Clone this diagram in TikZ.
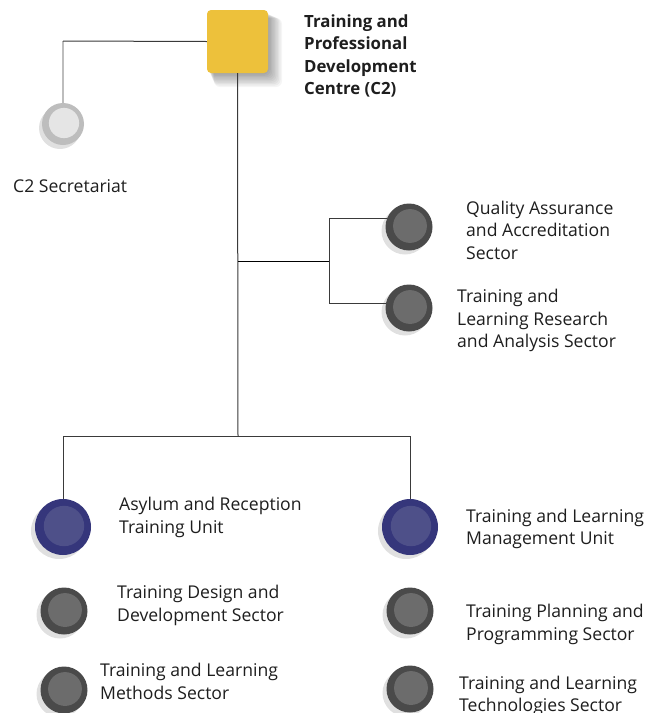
\documentclass[tikz,border=0pt]{standalone}
\usepackage{fontspec}
\setmainfont{Open Sans}
\definecolor{ybox}{HTML}{EDC13B}
\definecolor{gring}{HTML}{4A4A4A}
\definecolor{ginner}{HTML}{6C6C6C}
\definecolor{bring}{HTML}{35367B}
\definecolor{binner}{HTML}{4E5089}
\definecolor{sring}{HTML}{BDBDBD}
\definecolor{sinner}{HTML}{E5E5E5}
\definecolor{txt}{HTML}{1E1E1E}
\definecolor{lin}{HTML}{3A3A3A}
\begin{document}
\begin{tikzpicture}[x=1pt,y=-1pt,
  lbl/.style={anchor=west, align=left, inner sep=0pt, text=txt,
    font=\fontsize{17.6}{22.5}\selectfont},
  conn/.style={draw=lin, line width=1pt},
  shadowc/.style={fill=black, opacity=0.12},
  ball/.style n args={3}{circle, inner sep=0pt, minimum size=#1, fill=#2,
    path picture={\fill[#3] ([xshift=1pt,yshift=1pt]path picture bounding box.center) circle (0.36*#1);}},
]
\useasboundingbox (0,0) rectangle (646,713);
\fill[white] (0,0) rectangle (646,713);

% square shadow
\foreach \i in {1,...,10}
  \fill[black, opacity=0.04, rounded corners=6] (208+\i*0.6,12+\i*0.6) rectangle (268+\i*1.4,73+\i*1.4);

\node[fill=ybox, rounded corners=4pt, minimum width=61pt, minimum height=63pt, inner sep=0pt] (top) at (237.5,41.5) {};

% circle shadows
\foreach \p/\r in {{(60,128)}/21, {(405,231)}/23.5, {(405,312)}/23.5, {(59,531)}/28, {(406,531)}/28, {(60,615)}/23.5, {(60,694)}/23.5, {(406,615)}/23.5, {(406,693)}/23.5}
  \fill[shadowc] \p circle (\r);

\node[ball={42pt}{sring}{sinner}] (sec) at (63,124) {};
\node[ball={47pt}{gring}{ginner}] (qa) at (409,227) {};
\node[ball={47pt}{gring}{ginner}] (tlr) at (409,308) {};
\node[ball={56pt}{bring}{binner}] (asy) at (63,527) {};
\node[ball={56pt}{bring}{binner}] (tlm) at (410,527) {};
\node[ball={47pt}{gring}{ginner}] (tdd) at (64,611) {};
\node[ball={47pt}{gring}{ginner}] (tlme) at (64,690) {};
\node[ball={47pt}{gring}{ginner}] (tpp) at (410,611) {};
\node[ball={47pt}{gring}{ginner}] (tlt) at (410,689) {};

% connectors
\draw[draw=sring, line width=1.5pt] (sec.north) -- (63,41);
\draw[conn] (63,41) -- (top.west);
\coordinate (j1) at (238,261);
\coordinate (j2) at (329,261);
\coordinate (bm) at (238,436);
\coordinate (bl) at (63,436);
\coordinate (br) at (410,436);
\draw[conn] (top.south) -- (bm);
\draw[draw=black, line width=1pt] (j1) -- (j2);
\draw[conn] (j2) |- (qa.160);
\draw[conn] (j2) |- (tlr.168);
\draw[conn] (bl) -- (br);
\draw[conn] (bl) -- (asy.north);
\draw[conn] (br) -- (tlm.north);

% labels
\node[lbl, font=\fontsize{16.8}{22.5}\selectfont\bfseries] (ttop) at (304,56) {Training and\\Professional\\Development\\Centre (C2)};
\node[lbl] (tsec) at (13,186) {C2 Secretariat};
\node[lbl] (tqa) at (466,230) {Quality Assurance\\and Accreditation\\Sector};
\node[lbl] (ttlr) at (457,320.5) {Training and\\Learning Research\\and Analysis Sector};
\node[lbl] (tasy) at (119,517.5) {Asylum and Reception\\Training Unit};
\node[lbl] (ttlm) at (466,529) {Training and Learning\\Management Unit};
\node[lbl] (ttdd) at (117,605.5) {Training Design and\\Development Sector};
\node[lbl] (ttpp) at (466,624.5) {Training Planning and\\Programming Sector};
\node[lbl] (ttlme) at (100,681.5) {Training and Learning\\Methods Sector};
\node[lbl] (ttlt) at (459,696) {Training and Learning\\Technologies Sector};
\end{tikzpicture}
\end{document}
